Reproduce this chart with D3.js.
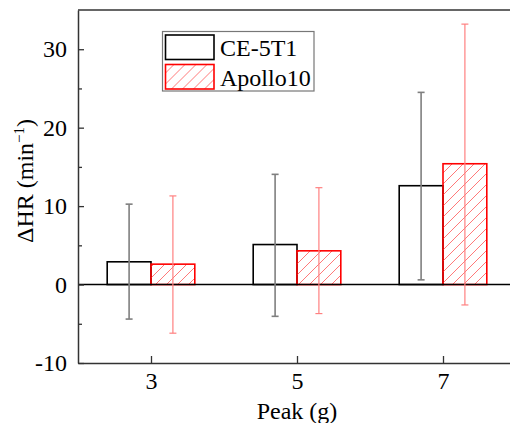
<!DOCTYPE html>
<html>
<head>
<meta charset="utf-8">
<script src="https://cdn.jsdelivr.net/npm/d3@7"></script>
<style>
  html, body { margin: 0; padding: 0; background: #fff; }
  svg { display: block; }
  text { font-family: "Liberation Serif", "Times New Roman", serif; fill: #000; }
</style>
</head>
<body>
<svg id="chart" width="510" height="423"></svg>
<script>
// ---- data ----
const peaks = [3, 5, 7];
const seriesNames = ["CE-5T1", "Apollo10"];
const ceMean = [2.9, 5.1, 12.6];
const ceUpper = [10.25, 14.05, 24.5];
const ceLower = [-4.4, -4.05, 0.6];
const apMean = [2.6, 4.3, 15.4];
const apUpper = [11.3, 12.35, 33.2];
const apLower = [-6.2, -3.7, -2.6];
const yTicks = [-10, 0, 10, 20, 30];
const yMinorTicks = [-5, 5, 15, 25];
const xTicks = [3, 5, 7];

// ---- layout ----
const svg = d3.select("#chart");
const mLeft = 78, mRight = 516, mTop = 10, mBottom = 363;
const x = d3.scaleLinear().domain([2, 8]).range([mLeft, mRight]);
const y = d3.scaleLinear().domain([-10, 35]).range([mBottom, mTop]);
const barW = 0.6;
const serif = '"Liberation Serif", "Times New Roman", serif';

// hatch pattern
const defs = svg.append("defs");
const pat = defs.append("pattern")
  .attr("id", "hatch").attr("patternUnits", "userSpaceOnUse")
  .attr("width", 11).attr("height", 11);
pat.append("path").attr("d", "M-1,1 l2,-2 M0,11 l11,-11 M10,12 l2,-2")
  .attr("stroke", "#ff6a6a").attr("stroke-width", 0.9).attr("fill", "none");

const series = [
  { name: seriesNames[0], mean: ceMean, up: ceUpper, lo: ceLower, offset: -barW,
    fill: "#fff", stroke: "#000", err: "#7f7f7f", errW: 1.6 },
  { name: seriesNames[1], mean: apMean, up: apUpper, lo: apLower, offset: 0,
    fill: "url(#hatch)", stroke: "#ff0000", err: "#ff8080", errW: 1.2 }
];

// bars
series.forEach(s => {
  svg.append("g").selectAll("rect").data(peaks).join("rect")
    .attr("x", (d) => x(d + s.offset))
    .attr("y", (d, i) => y(Math.max(0, s.mean[i])))
    .attr("width", x(barW) - x(0))
    .attr("height", (d, i) => Math.abs(y(s.mean[i]) - y(0)))
    .attr("fill", s.fill)
    .attr("stroke", s.stroke).attr("stroke-width", 1.6);
});

// zero line
svg.append("line").attr("x1", mLeft).attr("x2", 510)
  .attr("y1", y(0)).attr("y2", y(0)).attr("stroke", "#000").attr("stroke-width", 1.5);

// error bars
series.forEach(s => {
  const g = svg.append("g").attr("stroke", s.err).attr("stroke-width", s.errW);
  peaks.forEach((p, i) => {
    const cx = x(p + s.offset + barW / 2);
    g.append("line").attr("x1", cx).attr("x2", cx).attr("y1", y(s.up[i])).attr("y2", y(s.lo[i]));
    g.append("line").attr("x1", cx - 3.5).attr("x2", cx + 3.5).attr("y1", y(s.up[i])).attr("y2", y(s.up[i]));
    g.append("line").attr("x1", cx - 3.5).attr("x2", cx + 3.5).attr("y1", y(s.lo[i])).attr("y2", y(s.lo[i]));
  });
});

// frame
const axisColor = "#333";
svg.append("line").attr("x1", mLeft).attr("x2", 510).attr("y1", mTop).attr("y2", mTop)
  .attr("stroke", axisColor).attr("stroke-width", 1.5);

const fmt = d => String(d);

// y axis
const yAxis = d3.axisLeft(y).tickValues(yTicks).tickSizeInner(-6).tickSizeOuter(0).tickPadding(11)
  .tickFormat(fmt);
const gy = svg.append("g").attr("transform", `translate(${mLeft},0)`).call(yAxis)
  .attr("font-family", null).attr("font-size", null);
gy.select(".domain").attr("stroke", axisColor).attr("stroke-width", 1.5);
gy.selectAll(".tick line").attr("stroke", axisColor).attr("stroke-width", 1.3);
gy.selectAll(".tick text").style("font-size", "24px").style("font-family", serif).attr("fill", "#000");
const gym = svg.append("g").attr("transform", `translate(${mLeft},0)`)
  .call(d3.axisLeft(y).tickValues(yMinorTicks).tickSizeInner(-4).tickSizeOuter(0).tickFormat(""));
gym.select(".domain").remove();
gym.selectAll(".tick line").attr("stroke", axisColor).attr("stroke-width", 1.3);

// x axis
const xAxis = d3.axisBottom(x).tickValues(xTicks).tickSizeInner(-7).tickSizeOuter(0).tickPadding(9)
  .tickFormat(fmt);
const gx = svg.append("g").attr("transform", `translate(0,${mBottom})`).call(xAxis)
  .attr("font-family", null).attr("font-size", null);
gx.select(".domain").attr("stroke", axisColor).attr("stroke-width", 1.5);
gx.selectAll(".tick line").attr("stroke", axisColor).attr("stroke-width", 1.3);
gx.selectAll(".tick text").style("font-size", "24px").style("font-family", serif).attr("fill", "#000");

// axis titles
svg.append("text").attr("x", (mLeft + mRight) / 2).attr("y", 419)
  .attr("text-anchor", "middle").style("font-size", "24px").style("font-family", serif).text("Peak (g)");
const yt = svg.append("text").attr("transform", `translate(33,${181}) rotate(-90)`)
  .attr("text-anchor", "middle").style("font-size", "24px").style("font-family", serif);
yt.append("tspan").text("ΔHR (min");
yt.append("tspan").style("font-size", "15px").attr("dy", -9).text("−1");
yt.append("tspan").attr("dy", 9).text(")");

// legend
const lg = svg.append("g");
lg.append("rect").attr("x", 162.5).attr("y", 31.5).attr("width", 151.5).attr("height", 59.5)
  .attr("fill", "#fff").attr("stroke", "#777").attr("stroke-width", 1.2);
const items = lg.selectAll("g.item").data(series).join("g").attr("class", "item")
  .attr("transform", (d, i) => `translate(0,${i * 29.5})`);
items.append("rect").attr("x", 165.5).attr("y", 35).attr("width", 48.5).attr("height", 24.5)
  .attr("fill", d => d.fill).attr("stroke", d => d.stroke).attr("stroke-width", 1.6);
items.append("text").attr("x", 220).attr("y", 56).style("font-size", "24px").style("font-family", serif)
  .text(d => d.name);
</script>
</body>
</html>
